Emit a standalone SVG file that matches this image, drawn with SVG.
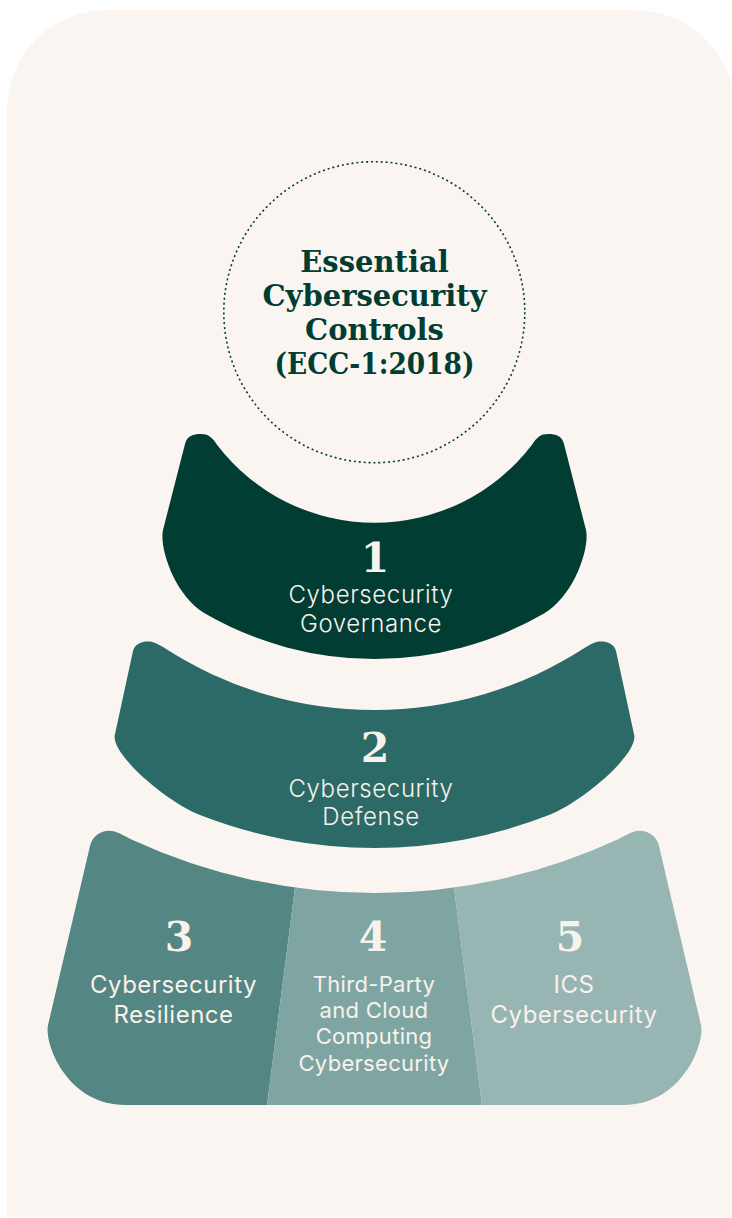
<svg xmlns="http://www.w3.org/2000/svg" width="732" height="1218" viewBox="0 0 732 1218">
  <defs>
    <style>
      .title { font-family: "DejaVu Serif", "Liberation Serif", serif; font-weight: bold; font-size: 29px; fill: #023D33; text-anchor: middle; }
      .num { font-family: "DejaVu Serif", "Liberation Serif", serif; font-weight: bold; font-size: 41px; fill: #F8F2EC; text-anchor: middle; }
      .lbl { font-family: Inter, "Liberation Sans", sans-serif; font-weight: 300; font-size: 24px; letter-spacing: 0.6px; fill: #F8F2EC; text-anchor: middle; }
      .lbl-b { font-family: Inter, "Liberation Sans", sans-serif; font-weight: 400; font-size: 24px; letter-spacing: 0.5px; fill: #F8F2EC; text-anchor: middle; }
      .lbl-s { font-family: Inter, "Liberation Sans", sans-serif; font-weight: 400; font-size: 22px; letter-spacing: 0.3px; fill: #F8F2EC; text-anchor: middle; }
    </style>
    <!-- outer outline of the three-part bottom tier -->
    <clipPath id="tier3">
      <path d="M90 846 C92 836 101 830.7 109 830.7 C117 830.7 123 835.5 131 839.2
               A578 578 0 0 0 618 839.2
               C626 835.5 632 830.7 640 830.7 C648 830.7 657 836 659 846
               L701 1025 C705 1045 681 1105 624 1105
               L125 1105 C68 1105 44 1045 48 1025 Z"/>
    </clipPath>
  </defs>

  <!-- panel -->
  <rect width="732" height="1218" fill="#FFFFFF"/>
  <path d="M7 1217 V110 A100 100 0 0 1 107 10 H635 A100 100 0 0 1 735 110 V1217 Z" fill="#FAF5F1"/>

  <!-- centre badge -->
  <g id="title">
    <circle cx="374.3" cy="312.2" r="150.5" fill="none" stroke="#023D33" stroke-width="1.6" stroke-dasharray="2 2.9"/>
    <text class="title" x="374.5" y="272">Essential</text>
    <text class="title" x="374.5" y="306">Cybersecurity</text>
    <text class="title" x="374.5" y="340">Controls</text>
    <text class="title" x="374.5" y="374" textLength="200" lengthAdjust="spacingAndGlyphs">(ECC-1:2018)</text>
  </g>

  <!-- tier 1 -->
  <g id="domain-1">
    <path fill="#023D34" d="M185 444 C187 436 193 434 201 434 C208 434 212 437 217 444.7
             A198 198 0 0 0 532 444.7
             C537 437 541 434 548 434 C556 434 562 436 564 444
             L586 530 C590 548 574 596.2 544 613.5
             A338.6 338.6 0 0 1 205 613.5
             C175 596.2 159 548 163 530 Z"/>
    <text class="num" x="375" y="572">1</text>
    <text class="lbl" x="371" y="603">Cybersecurity</text>
    <text class="lbl" x="371" y="632">Governance</text>
  </g>

  <!-- tier 2 -->
  <g id="domain-2">
    <path fill="#2C6A67" d="M133 651 C135 644 141 641.5 148 641.5 C154 641.5 158 644 163 647.1
             A387 387 0 0 0 586 647.1
             C591 644 595 641.5 601 641.5 C608 641.5 614 644 616 651
             L634.2 735 C638.2 754.5 581.6 802.4 549 815.1
             A479.5 479.5 0 0 1 200 815.1
             C167.4 802.4 110.8 754.5 114.8 735 Z"/>
    <text class="num" x="375" y="762">2</text>
    <text class="lbl" x="371" y="797">Cybersecurity</text>
    <text class="lbl" x="371" y="825">Defense</text>
  </g>

  <!-- tier 3: three side-by-side domains -->
  <g id="domain-3">
    <polygon fill="#548683" clip-path="url(#tier3)" points="0,800 306.3,800 265.1,1120 0,1120"/>
    <text class="num" x="179" y="951">3</text>
    <text class="lbl-b" x="173.5" y="993">Cybersecurity</text>
    <text class="lbl-b" x="173.5" y="1022.5">Resilience</text>
  </g>
  <g id="domain-4">
    <polygon fill="#7FA5A3" clip-path="url(#tier3)" points="306.3,800 442.7,800 483.9,1120 265.1,1120"/>
    <text class="num" x="373" y="951">4</text>
    <text class="lbl-s" x="374" y="991.5">Third-Party</text>
    <text class="lbl-s" x="374" y="1017.5">and Cloud</text>
    <text class="lbl-s" x="374" y="1044">Computing</text>
    <text class="lbl-s" x="374" y="1070.5">Cybersecurity</text>
  </g>
  <g id="domain-5">
    <polygon fill="#97B5B3" clip-path="url(#tier3)" points="442.7,800 749,800 749,1120 483.9,1120"/>
    <text class="num" x="570" y="951">5</text>
    <text class="lbl-b" x="574" y="993">ICS</text>
    <text class="lbl-b" x="574" y="1022.5">Cybersecurity</text>
  </g>
</svg>
